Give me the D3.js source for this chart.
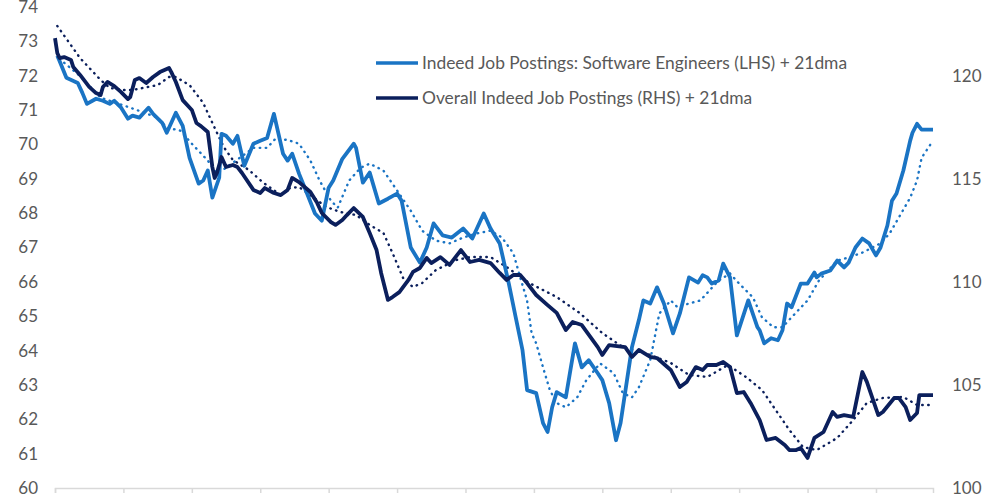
<!DOCTYPE html>
<html>
<head>
<meta charset="utf-8">
<script src="https://cdn.jsdelivr.net/npm/d3@7"></script>
<style>
  body { margin: 0; background: #fff; }
  text { font-family: Lato, "Open Sans", sans-serif; fill: #595959; }
</style>
</head>
<body>
<script>
// Constant
const w = 1000;
const h = 500;

// Day index along the x axis (about 13 months, a tick every 30 days)
const monthTicks = [0, 30, 60, 90, 120, 150, 180, 210, 240, 270, 300, 330, 360];

// Software engineers postings (LHS) [day, value]
const softwareEng = [
  [1,72.58],[2,72.43],[5,71.94],[10,71.79],[12,71.5],[14,71.18],[18,71.33],[21,71.27],[24,71.18],[26,71.27],
  [29,71.07],[32,70.75],[34,70.84],[37,70.78],[41,71.07],[43,70.89],[47,70.63],[49,70.34],[53,70.92],[56,70.54],
  [59,69.61],[63,68.86],[65,68.95],[67,69.24],[69,68.45],[72,69.03],[73,70.31],[75,70.25],[78,70.02],[80,70.25],
  [83,69.38],[87,70.02],[90,70.11],[93,70.19],[96,70.89],[100,69.73],[102,69.53],[104,69.73],[107,69.15],[110,68.66],
  [114,67.99],[117,67.78],[120,68.74],[122,68.95],[126,69.58],[131,70.02],[132,69.9],[135,68.89],[138,69.18],[142,68.28],
  [146,68.42],[150,68.57],[152,68.36],[156,67.0],[160,66.56],[163,67.0],[166,67.7],[170,67.35],[174,67.29],[179,67.55],
  [183,67.26],[188,67.99],[191,67.55],[195,67.12],[199,65.95],[202,64.97],[205,64.01],[207,62.85],[211,62.76],[214,61.89],
  [216,61.63],[218,62.35],[220,62.79],[224,62.64],[226,63.43],[228,64.21],[231,63.51],[234,63.72],[238,63.34],[240,63.14],
  [243,62.47],[246,61.39],[248,61.89],[251,63.22],[253,64.1],[256,64.88],[258,65.46],[261,65.37],[264,65.84],[267,65.37],
  [271,64.5],[274,65.08],[278,66.13],[282,65.98],[284,66.19],[286,66.13],[288,65.95],[291,66.04],[293,66.53],[296,66.13],
  [299,64.44],[304,65.46],[308,64.68],[309,64.59],[311,64.21],[314,64.36],[317,64.3],[319,64.59],[321,65.37],[323,65.26],
  [327,65.95],[330,65.95],[333,66.27],[334,66.13],[336,66.24],[340,66.33],[343,66.62],[346,66.42],[348,66.56],[351,67.0],
  [354,67.26],[357,67.12],[360,66.77],[362,67.0],[365,67.64],[367,68.36],[369,68.57],[372,69.24],[375,70.11],[376,70.34],
  [378,70.6],[380,70.43],[385,70.43]
];

// Software engineers 21dma (LHS)
const softwareEngMa = [
  [2,72.49],[11,71.99],[20,71.36],[33,71.07],[45,70.78],[49,70.49],[55,70.4],[60,70.02],[67,69.53],[71,69.15],
  [75,69.32],[81,69.61],[87,69.9],[93,69.9],[97,70.19],[103,70.11],[107,70.02],[112,69.53],[116,68.95],[121,68.36],
  [124,68.16],[129,68.95],[134,69.32],[138,69.44],[144,69.24],[150,68.66],[156,68.07],[161,67.49],[167,67.2],[173,67.12],
  [179,67.29],[185,67.41],[191,67.49],[196,67.29],[201,66.83],[204,66.13],[207,65.46],[209,64.5],[211,64.21],[214,63.51],
  [217,62.85],[220,62.47],[224,62.35],[229,62.64],[233,63.14],[239,63.63],[245,63.34],[249,62.76],[253,62.64],[256,62.93],
  [261,63.72],[265,65.08],[270,65.46],[273,65.26],[278,65.37],[283,65.46],[287,65.75],[291,66.04],[296,66.24],[300,65.95],
  [306,65.55],[310,64.97],[315,64.68],[319,64.68],[323,64.97],[330,65.46],[335,66.04],[343,66.62],[348,66.71],[354,66.85],
  [362,67.12],[366,67.41],[370,67.87],[375,68.45],[378,68.95],[380,69.61],[385,70.11]
];

// Overall postings (RHS)
const overall = [
  [0,121.84],[1,121.12],[2,120.87],[4,120.92],[7,120.78],[8,120.44],[11,120.05],[15,119.47],[18,119.17],[20,119.08],
  [21,119.47],[23,119.71],[26,119.51],[29,119.22],[32,118.88],[33,118.98],[35,119.81],[37,119.9],[40,119.66],[43,119.95],
  [46,120.19],[50,120.39],[51,120.19],[53,119.71],[56,118.83],[60,118.35],[62,117.72],[64,117.57],[67,117.28],[69,115.58],
  [70,115.05],[71,115.29],[73,116.07],[75,115.58],[78,115.68],[80,115.58],[82,115.29],[87,114.47],[90,114.32],[92,114.56],
  [96,114.32],[99,114.22],[102,114.47],[104,115.05],[107,114.85],[112,114.37],[115,113.83],[117,113.35],[121,112.91],[123,112.77],
  [126,113.01],[128,113.25],[131,113.59],[135,113.16],[138,112.38],[141,111.55],[143,110.44],[146,109.13],[148,109.27],[151,109.51],
  [155,110.1],[157,110.49],[160,110.68],[163,111.17],[165,110.92],[169,111.21],[173,110.83],[178,111.55],[182,110.97],[186,111.07],
  [191,110.92],[195,110.44],[198,110.1],[201,110.34],[204,110.34],[207,109.95],[211,109.37],[216,108.88],[220,108.5],[224,107.67],
  [227,108.06],[231,107.91],[238,106.84],[240,106.46],[243,106.94],[250,106.84],[253,106.36],[256,106.7],[261,106.36],[264,106.31],
  [270,105.73],[274,104.9],[277,105.15],[281,105.87],[284,105.73],[286,105.97],[290,105.97],[293,106.12],[296,105.87],[299,104.61],
  [302,104.66],[305,104.13],[309,103.3],[312,102.33],[316,102.43],[320,102.09],[322,101.84],[325,101.84],[327,101.94],[330,101.46],
  [333,102.43],[337,102.72],[341,103.69],[343,103.45],[346,103.54],[350,103.45],[354,105.63],[356,105.15],[361,103.54],[363,103.69],
  [368,104.37],[370,104.37],[373,103.93],[375,103.3],[378,103.64],[379,104.51],[385,104.51]
];

// Overall postings 21dma (RHS)
const overallMa = [
  [1,122.43],[11,120.87],[20,119.81],[24,119.42],[30,119.32],[34,119.32],[45,119.56],[50,119.95],[53,119.95],[59,119.56],
  [65,118.69],[69,117.72],[74,116.55],[78,115.92],[85,115.44],[91,114.85],[99,114.22],[103,114.56],[107,114.61],[113,114.13],
  [119,113.64],[125,113.4],[132,113.25],[138,112.77],[144,112.38],[148,111.41],[153,110.1],[157,109.76],[161,109.95],[167,110.58],
  [176,111.07],[182,111.21],[191,111.21],[198,110.73],[208,109.95],[220,109.27],[230,108.5],[240,107.52],[249,106.84],[261,106.46],
  [270,106.07],[278,105.49],[286,105.39],[295,105.97],[303,105.39],[310,104.76],[316,103.79],[322,102.82],[328,101.99],[334,101.84],
  [343,102.43],[350,103.3],[356,104.13],[363,104.37],[372,104.42],[378,104.03],[384,104.03]
];

const leftTicks = d3.range(60, 75, 1);
const rightTicks = [100, 105, 110, 115, 120];

const legendLabels = [
  'Indeed Job Postings: Software Engineers (LHS) + 21dma',
  'Overall Indeed Job Postings (RHS) + 21dma'
];

const lightBlue = '#1a74c4';
const navy = '#0b1f5c';

// Create the svg canvas
var svg = d3.select('body')
  .append('svg')
  .attr('width', w)
  .attr('height', h);

// Scales
var x = d3.scaleLinear().domain([0, 385]).range([55, 933]);
var yLeft = d3.scaleLinear().domain([60, 74]).range([488, 7]);
var yRight = d3.scaleLinear().domain([100, 100 + 481 / 20.6]).range([488, 7]);

// x axis: ticks only, no labels
var xAxis = svg.append('g')
  .attr('transform', 'translate(0,488)')
  .call(d3.axisBottom(x).tickValues(monthTicks).tickSize(5).tickFormat(''));
xAxis.select('.domain').attr('stroke', '#d9d9d9').attr('stroke-width', 1.5);
xAxis.selectAll('.tick line').attr('stroke', '#d9d9d9').attr('stroke-width', 1.5);

// left axis
var leftAxis = svg.append('g')
  .attr('transform', 'translate(55,0)')
  .call(d3.axisLeft(yLeft).tickValues(leftTicks).tickSize(0).tickPadding(17));
leftAxis.select('.domain').remove();
leftAxis.selectAll('text').style('font-size', '17px').style('font-family', 'Lato, sans-serif').attr('fill', '#595959');

// right axis
var rightAxis = svg.append('g')
  .attr('transform', 'translate(933,0)')
  .call(d3.axisRight(yRight).tickValues(rightTicks).tickSize(0).tickPadding(19));
rightAxis.select('.domain').remove();
rightAxis.selectAll('text').style('font-size', '17px').style('font-family', 'Lato, sans-serif').attr('fill', '#595959');

// line generators
var lineLeft = d3.line().x((d) => x(d[0])).y((d) => yLeft(d[1]));
var lineRight = d3.line().x((d) => x(d[0])).y((d) => yRight(d[1]));

// dotted moving averages
svg.append('path')
  .attr('d', lineLeft(softwareEngMa))
  .attr('fill', 'none')
  .attr('stroke', lightBlue)
  .attr('stroke-width', 2.4)
  .attr('stroke-linecap', 'round')
  .attr('stroke-dasharray', '0.5,5.5');

svg.append('path')
  .attr('d', lineRight(overallMa))
  .attr('fill', 'none')
  .attr('stroke', navy)
  .attr('stroke-width', 2.4)
  .attr('stroke-linecap', 'round')
  .attr('stroke-dasharray', '0.5,5.5');

// solid series
svg.append('path')
  .attr('d', lineLeft(softwareEng))
  .attr('fill', 'none')
  .attr('stroke', lightBlue)
  .attr('stroke-width', 3.8)
  .attr('stroke-linejoin', 'round');

svg.append('path')
  .attr('d', lineRight(overall))
  .attr('fill', 'none')
  .attr('stroke', navy)
  .attr('stroke-width', 3.8)
  .attr('stroke-linejoin', 'round');

// legend
var legend = svg.selectAll('.legend')
  .data(legendLabels)
  .enter()
  .append('g')
  .attr('class', 'legend')
  .attr('transform', (d, i) => 'translate(376,' + (63 + i * 35) + ')');

legend.append('line')
  .attr('x1', 0)
  .attr('x2', 42)
  .attr('stroke', (d, i) => i === 0 ? lightBlue : navy)
  .attr('stroke-width', 3.5);

legend.append('text')
  .attr('x', 46)
  .attr('dy', '0.35em')
  .style('font-size', '17.4px')
  .text((d) => d);
</script>
</body>
</html>
